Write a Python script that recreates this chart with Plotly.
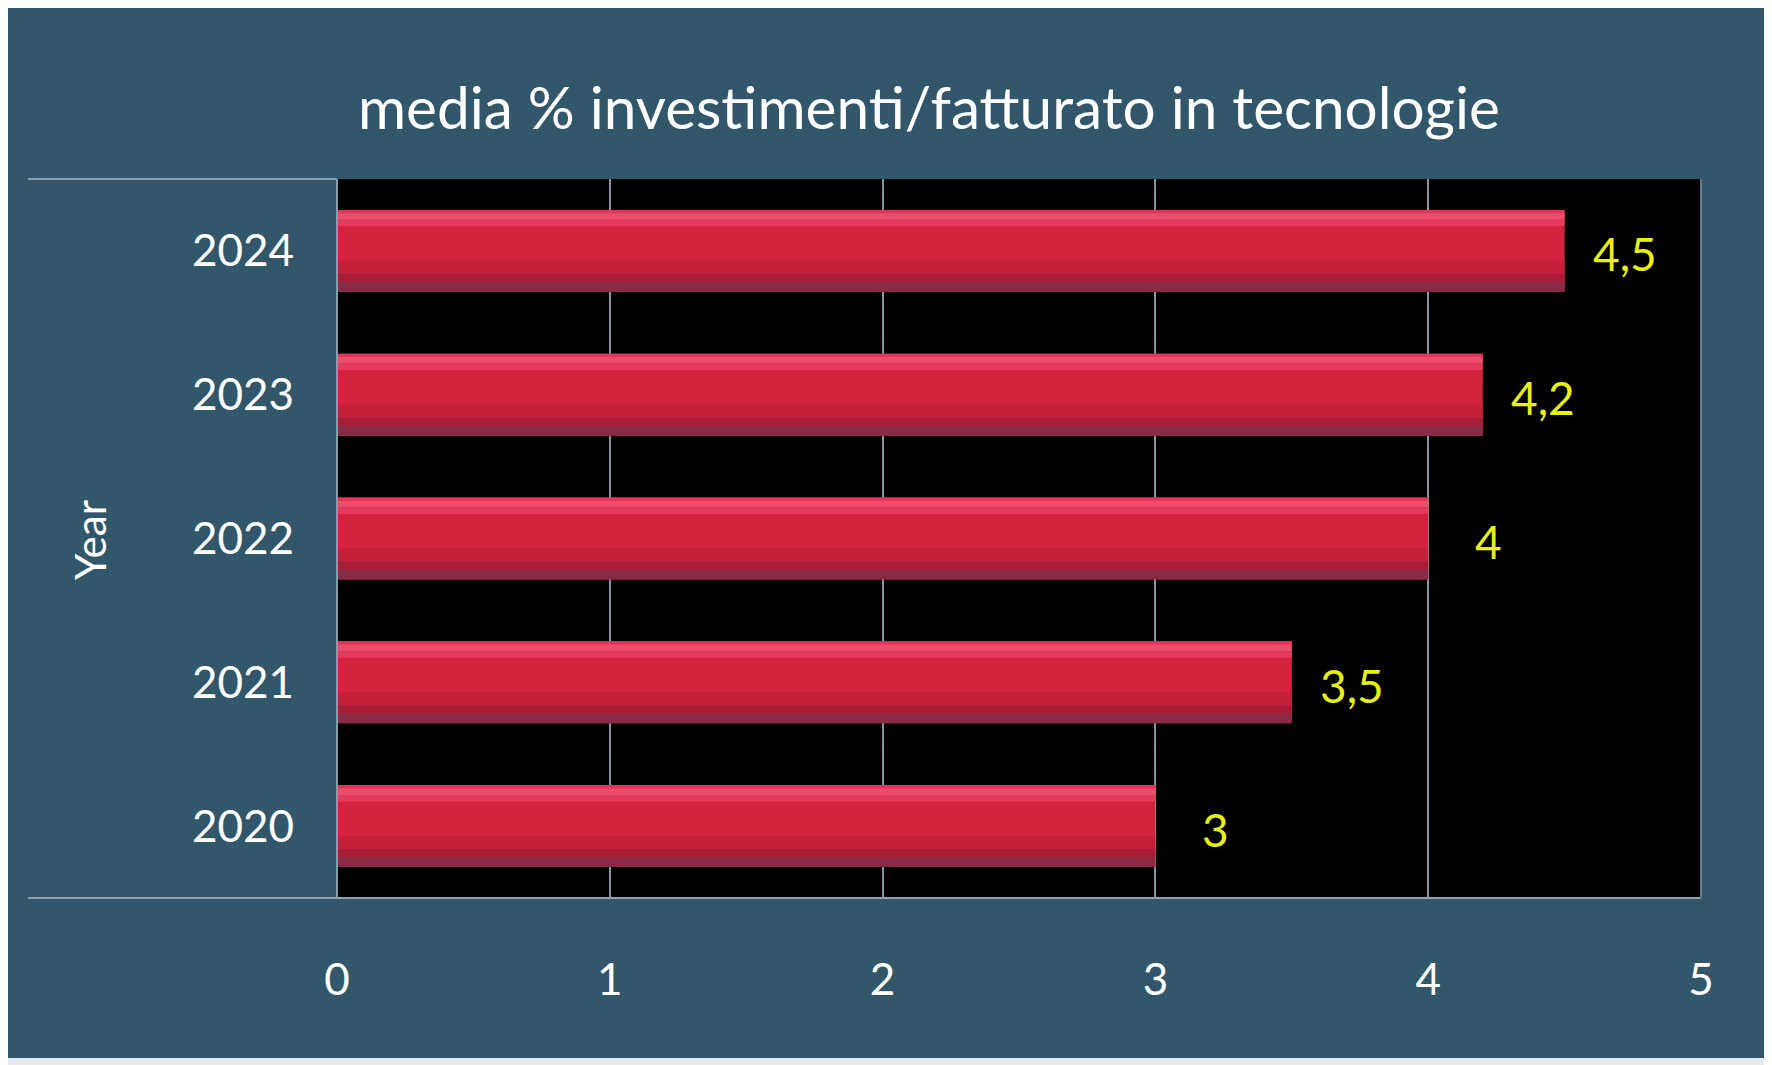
import plotly.graph_objects as go

years = ["2020", "2021", "2022", "2023", "2024"]
values = [3.0, 3.5, 4.0, 4.2, 4.5]
x_ticks = [0, 1, 2, 3, 4, 5]
title_text = "media % investimenti/fatturato in tecnologie"
y_title = "Year"

# page has an 8px body margin, so figure coords = screen coords - 8
OFF = 8
W, H = 1772 - OFF, 1065 - OFF
L, R, T, B = 337 - OFF, 1701 - OFF, 179 - OFF, 898 - OFF
pw, ph = R - L, B - T

FONT = "Lato"
BG = "#33576a"
BAR_W = 0.57

# shading bands of each bar: (fraction from top start, end, colour)
bands = [
    (0.00, 0.04, "#e53558"),
    (0.04, 0.12, "#f04c70"),
    (0.12, 0.20, "#e43a5c"),
    (0.62, 0.78, "#c41f3b"),
    (0.78, 0.88, "#a91c37"),
    (0.88, 1.00, "#8a2a47"),
]

fig = go.Figure()
fig.add_trace(go.Bar(y=years, x=values, orientation="h", width=BAR_W,
                     marker=dict(color="#d3243f", line=dict(width=0)),
                     hoverinfo="skip"))
for f0, f1, col in bands:
    fig.add_trace(go.Bar(y=years, x=values, orientation="h",
                         width=(f1 - f0) * BAR_W,
                         offset=BAR_W / 2 - f1 * BAR_W,
                         marker=dict(color=col, line=dict(width=0)),
                         hoverinfo="skip"))

annotations = []
for i, v in enumerate(values):
    txt = ("%g" % v).replace(".", ",")
    annotations.append(dict(x=v, y=i, xref="x", yref="y", text=txt,
                            showarrow=False, xanchor="center", xshift=60, yshift=-3,
                            font=dict(family=FONT, size=46, color="#e8f010")))

annotations.append(dict(xref="paper", yref="paper", x=(929 - OFF - L) / pw,
                        y=1 + (T - (106 - OFF)) / ph,
                        text=title_text, showarrow=False, xanchor="center", yanchor="middle",
                        font=dict(family=FONT, size=58.5, color="white")))
annotations.append(dict(xref="paper", yref="paper", x=(90 - OFF - L) / pw,
                        y=(B - (540 - OFF)) / ph,
                        text=y_title, showarrow=False, textangle=-90,
                        xanchor="center", yanchor="middle",
                        font=dict(family=FONT, size=42, color="white")))

shapes = [
    dict(type="rect", xref="paper", yref="paper", layer="below",
         x0=(3 - OFF - L) / pw, x1=(1767 - OFF - L) / pw,
         y0=(B - (1058 - OFF)) / ph, y1=(B - (3 - OFF)) / ph,
         fillcolor=BG, line=dict(width=0)),
    dict(type="rect", xref="paper", yref="paper", layer="below",
         x0=0, x1=1, y0=0, y1=1, fillcolor="black", line=dict(width=0)),
    dict(type="line", xref="paper", yref="paper", x0=(28 - OFF - L) / pw, x1=0, y0=1, y1=1,
         line=dict(color="#8aa0aa", width=2)),
    dict(type="line", xref="paper", yref="paper", x0=(28 - OFF - L) / pw, x1=1, y0=0, y1=0,
         line=dict(color="#8aa0aa", width=2)),
    dict(type="line", xref="paper", yref="paper", x0=0, x1=0, y0=0, y1=1,
         line=dict(color="#7fa0ac", width=2)),
    dict(type="line", xref="paper", yref="paper", x0=1, x1=1, y0=0, y1=1,
         line=dict(color="#5f7f8c", width=2)),
]

fig.update_layout(
    width=W, height=H,
    margin=dict(l=L, r=W - R, t=T, b=H - B, pad=0),
    paper_bgcolor="#e6eaec",
    plot_bgcolor="black",
    barmode="overlay",
    showlegend=False,
    annotations=annotations,
    shapes=shapes,
    xaxis=dict(range=[0, 5], tickvals=x_ticks, ticktext=[str(t) for t in x_ticks],
               showgrid=True, gridcolor="#8298a3", gridwidth=1.5,
               zeroline=False, showline=False, ticks="",
               ticklabelstandoff=52,
               tickfont=dict(family=FONT, size=44, color="white"),
               fixedrange=True),
    yaxis=dict(type="category", categoryorder="array", categoryarray=years,
               range=[-0.5, 4.5], autorange=False,
               showgrid=False, zeroline=False, showline=False, ticks="",
               ticklabelstandoff=42,
               tickfont=dict(family=FONT, size=44, color="white"),
               fixedrange=True),
)

fig.write_html("out.html")
